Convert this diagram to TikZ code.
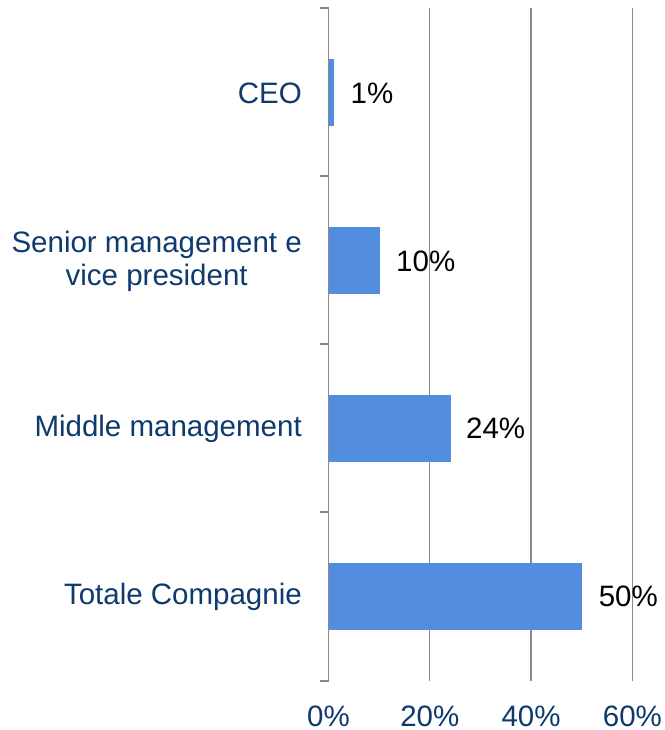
\documentclass[tikz,border=0pt]{standalone}
\usepackage{fontspec}
\setmainfont{Liberation Sans}
\definecolor{catblue}{HTML}{0F3A6E}
\definecolor{barblue}{HTML}{538DE0}
\definecolor{gridgray}{HTML}{8A8A8A}
\tikzset{
  grid/.style={draw=gridgray, line width=1.3pt},
  bar/.style={fill=barblue, draw=none, inner sep=0pt, minimum height=67pt, anchor=west},
  cat/.style={text=catblue, anchor=east, align=center, font=\fontsize{29.5}{33}\selectfont, inner sep=0pt},
  val/.style={text=black, anchor=west, font=\fontsize{29.5}{33}\selectfont, inner sep=0pt},
  axl/.style={text=catblue, anchor=base, font=\fontsize{29.5}{33}\selectfont, inner sep=0pt}
}
\begin{document}
\begin{tikzpicture}[x=1pt,y=1pt]
\useasboundingbox[fill=white] (0,0) rectangle (664,730);
% gridlines
\coordinate (g0t) at (328.5,722);
\coordinate (g0b) at (328.5,49);
\coordinate (g1t) at (429.8,722);
\coordinate (g1b) at (429.8,49);
\coordinate (g2t) at (531.1,722);
\coordinate (g2b) at (531.1,49);
\coordinate (g3t) at (632.4,722);
\coordinate (g3b) at (632.4,49);
\draw[grid] (g1t) -- (g1b);
\draw[grid] (g2t) -- (g2b);
\draw[grid] (g3t) -- (g3b);
% bars
\node[bar, minimum width=5.1pt]  (b1) at (329,637) {};
\node[bar, minimum width=50.6pt] (b2) at (329,469) {};
\node[bar, minimum width=121.5pt] (b3) at (329,301.5) {};
\node[bar, minimum width=253.2pt] (b4) at (329,133.5) {};
% axis
\draw[grid] (g0t) -- (g0b);
\foreach \y [count=\i] in {722,554,386,218,49} {
  \coordinate (tk\i) at (320,\y);
  \coordinate (ta\i) at (328.5,\y);
  \draw[grid] (tk\i) -- (ta\i);
}
% category labels
\node[cat] (c1) at (302,637) {CEO};
\node[cat] (c2) at (302,469) {Senior management e\\vice president};
\node[cat] (c3) at (302,301.5) {Middle management};
\node[cat] (c4) at (302,133.5) {Totale Compagnie};
% value labels
\node[val] (v1) at ([xshift=16pt]b1.east) {1\%};
\node[val] (v2) at ([xshift=16pt]b2.east) {10\%};
\node[val] (v3) at ([xshift=15pt]b3.east) {24\%};
\node[val] (v4) at ([xshift=16pt]b4.east) {50\%};
% axis labels
\node[axl] (x0) at (328.5,3.5) {0\%};
\node[axl] (x1) at (429.8,3.5) {20\%};
\node[axl] (x2) at (531.1,3.5) {40\%};
\node[axl] (x3) at (632.4,3.5) {60\%};
\end{tikzpicture}
\end{document}
